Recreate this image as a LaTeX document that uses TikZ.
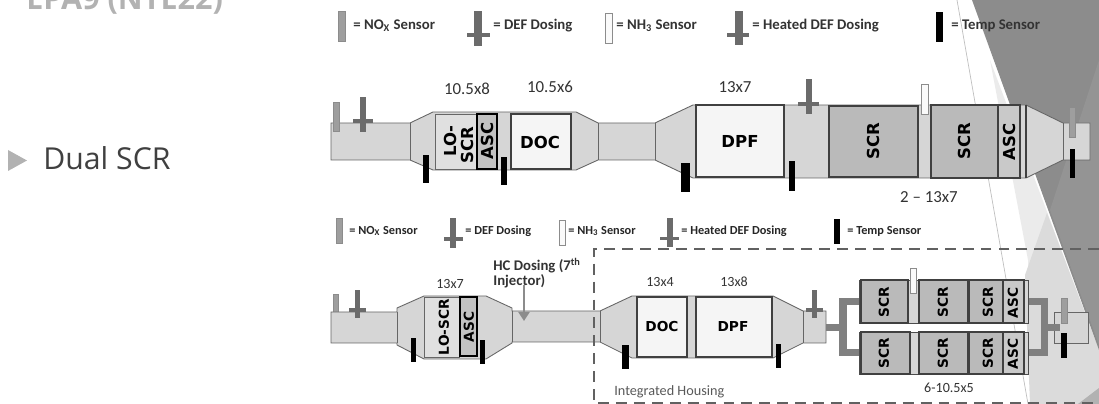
\documentclass[tikz,border=0pt]{standalone}
\usepackage{fontspec}
\setmainfont{Carlito}
\newfontfamily\blockfont{DejaVu Sans}
\newfontfamily\slidefont{Open Sans}
\usetikzlibrary{arrows.meta}

\begin{document}
\begin{tikzpicture}[x=0.02cm,y=-0.02cm,
    body/.style={draw=black!60,line width=0.5pt,fill=black!16},
    brick/.style={draw=black!75,line width=0.7pt,fill=black!27},
    ascbrick/.style={draw=black!75,line width=0.7pt,fill=black!21},
    cleanbrick/.style={draw=black!75,line width=0.7pt,fill=black!4},
    loscr/.style={draw=black!60,line width=0.5pt,fill=black!12},
    ascbold/.style={draw=black,line width=1.2pt,fill=black!24},
    noxsensor/.style={draw=black!45,line width=0.3pt,fill=black!38},
    nhsensor/.style={draw=black!45,line width=0.5pt,fill=black!2},
    defsensor/.style={fill=black!58},
    tempsensor/.style={fill=black},
    pipework/.style={draw=black!50,line width=4pt},
    blocktext/.style={font=\blockfont\bfseries\fontsize{9.4}{10}\selectfont,inner sep=0pt},
    blocksmall/.style={font=\blockfont\bfseries\fontsize{7.8}{9}\selectfont,inner sep=0pt},
    legendone/.style={anchor=west,inner sep=0pt,text=black!80,font=\bfseries\fontsize{8.4}{10}\selectfont},
    legendtwo/.style={anchor=west,inner sep=0pt,text=black!85,font=\bfseries\fontsize{7}{8}\selectfont},
    dimtext/.style={inner sep=0pt,text=black!80,font=\fontsize{9.6}{11}\selectfont},
    dimsmall/.style={inner sep=0pt,text=black!80,font=\fontsize{8}{10}\selectfont},
    backing/.style={fill=white,inner xsep=7pt,inner ysep=3pt},
]
    \useasboundingbox (0,0) rectangle (1099,404);

    % SLIDE
    \fill[black!8] (990,60) -- (1028,260) -- (1035,404) -- (1099,404) -- (1099,350) -- cycle;
    \fill[black!14] (1047,213) -- (1025,275) -- (1030,404) -- (1099,404) -- (1099,350) -- cycle;
    \fill[black!30] (1099,388) -- (1078,404) -- (1099,404) -- cycle;
    \fill[black!45] (972,0) -- (1099,0) -- (1099,350) -- cycle;
    \fill[black!42] (1099,60) -- (1050,210) -- (1099,345) -- cycle;
    \draw[black!25,line width=0.4pt] (957,0) -- (1028,404);
    \node[anchor=base west,inner sep=0pt,text=black!30,font=\slidefont\bfseries\fontsize{17.4}{20}\selectfont] (title) at (26,10) {EPA9 (NTE22)};
    \fill[black!30] (8,150) -- (27,160.5) -- (8,171) -- cycle;
    \node[anchor=base west,inner sep=0pt,text=black!75,font=\slidefont\fontsize{17.2}{20}\selectfont] (dualscr) at (43,170) {Dual SCR};

    % LEGEND 1
    \draw[noxsensor] (338,11) rectangle (345,41);
    \node[legendone] (legnoxA) at (353,26) {= NO\textsubscript{X} Sensor};
    \fill[defsensor] (474,11) rectangle (482,46);
    \fill[defsensor] (467,33) rectangle (490,37);
    \node[legendone] (legdefA) at (493,26) {= DEF Dosing};
    \draw[nhsensor] (605,13) rectangle (612,43);
    \node[legendone] (legnhA) at (616,26) {= NH\textsubscript{3} Sensor};
    \fill[defsensor] (735,11) rectangle (743,45);
    \fill[defsensor] (727,33) rectangle (749,37);
    \node[legendone] (legheatA) at (752,26) {= Heated DEF Dosing};
    \fill[tempsensor] (936,12) rectangle (943,42);
    \node[legendone] (legtempA) at (951,26) {= Temp Sensor};

    % ROW 1
    \begin{scope}
        \draw[body] (331,123) -- (410,123) -- (433,112) -- (576,112) -- (598,123) -- (655,123)
            -- (693,105) -- (1026,105) -- (1063,123) -- (1090,123) -- (1090,160) -- (1063,160)
            -- (1026,178) -- (693,178) -- (655,160) -- (598,160) -- (576,170) -- (433,170)
            -- (410,160) -- (331,160) -- cycle;
        \draw[black!60] (410,123) -- (410,160);
        \draw[black!60] (598,123) -- (598,160);
        \draw[black!60] (655,123) -- (655,160);
        \draw[black!60] (1063,123) -- (1063,160);
        \draw[loscr] (435,114) rectangle (476,169);
        \draw[ascbold] (477,114) rectangle (497,169);
        \draw[cleanbrick] (511,114) rectangle (571,169);
        \draw[cleanbrick] (696,105) rectangle (784,177);
        \draw[brick] (829,106) rectangle (918,177);
        \draw[brick] (931,105) rectangle (998,178);
        \draw[ascbrick] (998,105) rectangle (1020,178);
        \draw[black!75,line width=0.7pt] (1026,105) -- (1026,178);

        \node[blocktext,rotate=90] (loA) at (450,141) {LO-};
        \node[blocktext,rotate=90] (loscrA) at (467,145) {SCR};
        \node[blocktext,rotate=90] (ascA) at (487,141) {ASC};
        \node[blocktext] (docA) at (540,142) {DOC};
        \node[blocktext] (dpfA) at (740,141) {DPF};
        \node[blocktext,rotate=90] (scrA) at (873,141) {SCR};
        \node[blocktext,rotate=90] (scrB) at (964,141) {SCR};
        \node[blocktext,rotate=90] (ascB) at (1009,142) {ASC};

        \draw[noxsensor] (333,102) rectangle (339,131);
        \fill[defsensor] (360,97) rectangle (366,132);
        \fill[defsensor] (353,119) rectangle (373,123);
        \fill[tempsensor] (423,155) rectangle (429,183);
        \fill[tempsensor] (501,157) rectangle (507,185);
        \fill[tempsensor] (681,163) rectangle (690,192);
        \fill[defsensor] (806,79) rectangle (812,114);
        \fill[defsensor] (798,102) rectangle (819,106);
        \fill[tempsensor] (789,161) rectangle (795,191);
        \draw[nhsensor] (921,84) rectangle (928,114);
        \draw[noxsensor] (1069,107) rectangle (1075,137);
        \fill[tempsensor] (1070,149) rectangle (1075,178);

        \node[dimtext] (dimloA) at (467,89) {10.5x8};
        \node[dimtext] (dimdocA) at (550,87) {10.5x6};
        \node[dimtext] (dimdpfA) at (735,87) {13x7};
        \node[dimtext,backing] (dimscrA) at (929,197) {2 -- 13x7};
    \end{scope}

    % LEGEND 2
    \draw[noxsensor] (336,218) rectangle (342,243);
    \node[legendtwo] (legnoxB) at (349,231) {= NO\textsubscript{X} Sensor};
    \fill[defsensor] (450,218) rectangle (456,248);
    \fill[defsensor] (444,237) rectangle (463,241);
    \node[legendtwo] (legdefB) at (465,231) {= DEF Dosing};
    \draw[nhsensor] (559,220) rectangle (565,245);
    \node[legendtwo] (legnhB) at (568,231) {= NH\textsubscript{3} Sensor};
    \fill[defsensor] (667,218) rectangle (673,247);
    \fill[defsensor] (660,237) rectangle (679,240);
    \node[legendtwo] (legheatB) at (681,231) {= Heated DEF Dosing};
    \fill[tempsensor] (834,219) rectangle (840,244);
    \node[legendtwo] (legtempB) at (847,231) {= Temp Sensor};

    % ROW 2
    \begin{scope}
        \draw[noxsensor] (333,294) rectangle (338,312);
        \draw[body] (331,312) -- (397,312) -- (397,308) -- (424,296) -- (486,296) -- (512,308)
            -- (512,311) -- (600,311) -- (632,296) -- (773,296) -- (803,311) -- (826,311)
            -- (826,343) -- (803,343) -- (773,358) -- (632,358) -- (600,342) -- (512,342)
            -- (512,343) -- (486,359) -- (424,359) -- (397,345) -- (397,343) -- (331,343) -- cycle;
        \draw[black!60] (397,312) -- (397,343);
        \draw[black!60] (512,311) -- (512,342);
        \draw[black!60] (600,311) -- (600,342);
        \draw[black!60] (803,311) -- (803,343);
        \draw[loscr] (424,297) rectangle (459,357);
        \draw[ascbold] (460,297) rectangle (477,356);
        \draw[cleanbrick] (637,297) rectangle (687,357);
        \draw[cleanbrick] (696,297) rectangle (772,357);

        % housing pipes
        \draw[body] (1054,312) rectangle (1088,343);
        \coordinate (inlet) at (826,327.5);
        \coordinate (outlet) at (1060,327.5);
        \coordinate (topin) at (859,301.5);
        \coordinate (botin) at (859,352.5);
        \coordinate (topout) at (1028,301.5);
        \coordinate (botout) at (1028,352.5);
        \draw[pipework] (inlet) -- (843,327.5);
        \draw[pipework] (topin) -| (843,352.5) -- (botin);
        \draw[pipework] (topout) -| (1044.5,352.5) -- (botout);
        \draw[pipework] (1044.5,327.5) -- (outlet);

        \foreach \ytop/\ybot in {280/323,332/374} {
            \draw[body,draw=black!70] (859,\ytop) rectangle (1028,\ybot);
            \draw[brick] (919,\ytop) rectangle (968,\ybot);
            \draw[brick] (969,\ytop) rectangle (1003,\ybot);
            \draw[ascbrick] (1003,\ytop) rectangle (1024,\ybot);
        }
        \draw[brick] (861,280) rectangle (908,323);
        \draw[brick] (861,332) rectangle (910,374);

        \node[blocksmall,rotate=90] (loscrC) at (444,327) {LO-SCR};
        \node[blocksmall,rotate=90] (ascC) at (469,327) {ASC};
        \node[blocksmall] (docC) at (662,327) {DOC};
        \node[blocksmall] (dpfC) at (733,327) {DPF};
        \node[blocksmall,rotate=90] (scrD) at (884,302) {SCR};
        \node[blocksmall,rotate=90] (scrE) at (943,302) {SCR};
        \node[blocksmall,rotate=90] (scrF) at (988,302) {SCR};
        \node[blocksmall,rotate=90] (ascD) at (1013,303) {ASC};
        \node[blocksmall,rotate=90] (scrG) at (884,353) {SCR};
        \node[blocksmall,rotate=90] (scrH) at (943,353) {SCR};
        \node[blocksmall,rotate=90] (scrI) at (988,353) {SCR};
        \node[blocksmall,rotate=90] (ascE) at (1013,354) {ASC};

        \fill[defsensor] (355,290) rectangle (360,318);
        \fill[defsensor] (349,308) rectangle (366,312);
        \fill[tempsensor] (411,338) rectangle (416,362);
        \fill[tempsensor] (480,340) rectangle (485,364);
        \fill[tempsensor] (622,345) rectangle (629,369);
        \fill[tempsensor] (776,344) rectangle (781,368);
        \fill[defsensor] (812,290) rectangle (817,318);
        \fill[defsensor] (806,308) rectangle (823,312);
        \draw[nhsensor] (910,268) rectangle (916,293);
        \draw[noxsensor] (1061,298) rectangle (1067,323);
        \fill[tempsensor] (1061,333) rectangle (1067,358);

        \node[dimsmall] (dimloC) at (450,284) {13x7};
        \node[dimsmall] (dimdocC) at (660,282) {13x4};
        \node[dimsmall] (dimdpfC) at (734,282) {13x8};
        \node[dimsmall,backing] (dimscrC) at (949,388) {6-10.5x5};

        \node[anchor=north west,inner sep=0pt,align=left,text=black!80,font=\bfseries\fontsize{8.4}{8.6}\selectfont] (hcdosing) at (493,258) {HC Dosing (7\textsuperscript{th}\\Injector)};
        \coordinate (hctip) at (524,321);
        \draw[-{Triangle[width=11pt*0.569,length=9pt*0.569]},black!45,line width=1.2pt] (524,285) -- (hctip);

        % housing outline
        \draw[black!62,line width=1.2pt,dash pattern=on 6.2pt off 4pt] (1099,249) -- (594,249) -- (594,403) -- (1099,403);
        \node[anchor=base west,inner sep=0pt,text=black!65,font=\fontsize{8.1}{10}\selectfont] (housing) at (614,396) {Integrated Housing};
    \end{scope}

\end{tikzpicture}
\end{document}
